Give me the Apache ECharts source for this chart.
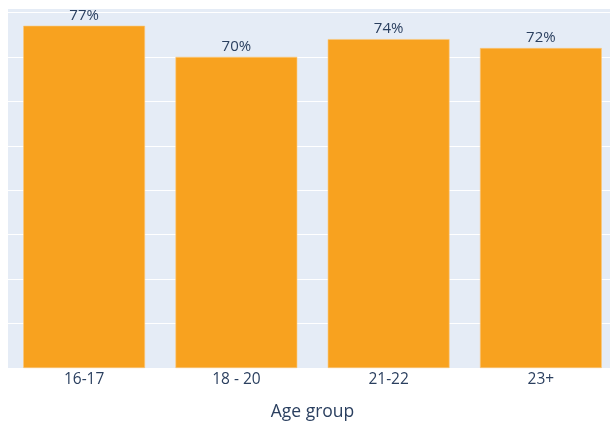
<!DOCTYPE html>
<html>
<head>
<meta charset="utf-8">
<script src="https://cdn.jsdelivr.net/npm/echarts@6/dist/echarts.min.js"></script>
<style>
  html, body { margin: 0; padding: 0; background: #fff; }
  #chart { width: 610px; height: 423px; }
</style>
</head>
<body>
<div id="chart"></div>
<script>
// Share of respondents per age group (percent)
const categories = ['16-17', '18 - 20', '21-22', '23+'];
const shares = [77, 70, 74, 72];
const yMax = 81;
const yStep = 10;

const chart = echarts.init(document.getElementById('chart'));
chart.setOption({
  animation: false,
  textStyle: { fontFamily: '"Open Sans", Arial, sans-serif' },
  grid: {
    left: 8, width: 609, top: 8, height: 360,
    outerBoundsMode: 'none', containLabel: false,
    backgroundColor: '#E5ECF6', show: true, borderWidth: 0
  },
  xAxis: {
    type: 'category',
    data: categories,
    name: 'Age group',
    nameLocation: 'middle',
    nameGap: 35,
    nameTextStyle: { color: '#2a3f5f', fontSize: 17.5 },
    axisLine: { show: false },
    axisTick: { show: false },
    axisLabel: { color: '#2a3f5f', fontSize: 15.5, margin: 4 }
  },
  yAxis: {
    type: 'value',
    min: 0,
    max: yMax,
    interval: yStep,
    axisLabel: { show: false },
    axisLine: { show: false },
    axisTick: { show: false },
    splitLine: { lineStyle: { color: '#ffffff', width: 1.2 } }
  },
  series: [{
    type: 'bar',
    data: shares,
    barCategoryGap: '20%',
    itemStyle: { color: '#F8A21F', borderColor: '#FBC77A', borderWidth: 0.6 },
    label: {
      show: true,
      position: 'top',
      distance: 3,
      formatter: p => p.value + '%',
      color: '#2a3f5f',
      fontSize: 15
    }
  }]
});
</script>
</body>
</html>
